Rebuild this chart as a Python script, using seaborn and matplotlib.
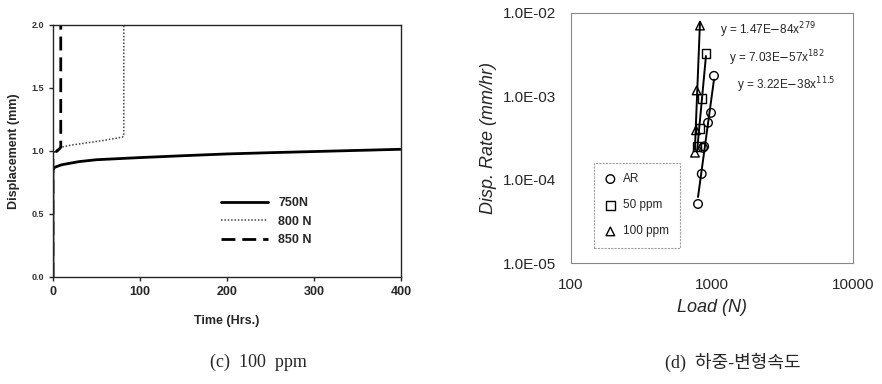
import numpy as np
import pandas as pd
import matplotlib
matplotlib.use('Agg')
import matplotlib.pyplot as plt
import seaborn as sns

# (c) creep curves, 100 ppm
t_750 = [0, 0, 2, 10, 30, 50, 100, 150, 200, 250, 300, 350, 400]
d_750 = [0, 0.85, 0.87, 0.89, 0.915, 0.93, 0.947, 0.962, 0.976, 0.986, 0.995, 1.004, 1.013]
t_800 = [0, 0, 2, 5, 10, 20, 40, 60, 80, 81.5, 81.5]
d_800 = [0, 0.96, 0.99, 1.01, 1.03, 1.045, 1.065, 1.085, 1.11, 1.12, 2.1]
t_850 = [0, 0, 1, 3, 5, 8, 9, 9]
d_850 = [0, 0.93, 0.96, 0.99, 1.0, 1.02, 1.03, 2.3]
left_labels = ['750N', '800 N', '850 N']

# (d) load vs displacement rate
ar_load = [796, 846, 863, 880, 937, 984, 1033]
ar_rate = [5.1e-5, 1.17e-4, 2.4e-4, 2.5e-4, 4.8e-4, 6.3e-4, 1.75e-3]
p50_load = [783, 822, 849, 906]
p50_rate = [2.5e-4, 4.1e-4, 9.4e-4, 3.25e-3]
p100_load = [757, 770, 778, 822]
p100_rate = [2.1e-4, 3.9e-4, 1.17e-3, 7.0e-3]
group_names = ['AR', '50 ppm', '100 ppm']
fit_labels = [r'y = 3.22E$-$38x$^{11.5}$', r'y = 7.03E$-$57x$^{182}$', r'y = 1.47E$-$84x$^{279}$']
ytick_vals = [1e-5, 1e-4, 1e-3, 1e-2]
ytick_labels = ['1.0E-05', '1.0E-04', '1.0E-03', '1.0E-02']
xtick_vals = [100, 1000, 10000]
xtick_labels = ['100', '1000', '10000']

sns.set_style('ticks')
plt.rcParams['font.family'] = ['Liberation Sans', 'DejaVu Sans']

fig = plt.figure(figsize=(8.82, 3.84), dpi=100)
ax1 = fig.add_axes([0.060, 0.279, 0.3946, 0.656])
ax2 = fig.add_axes([0.6474, 0.315, 0.3197, 0.652])

# ---- left panel
sns.lineplot(x=t_750, y=d_750, ax=ax1, sort=False, estimator=None, color='black', lw=2.0, label=left_labels[0])
sns.lineplot(x=t_800, y=d_800, ax=ax1, sort=False, estimator=None, color='#444444', lw=1.1, linestyle=(0, (1, 1.2)), label=left_labels[1])
sns.lineplot(x=t_850, y=d_850, ax=ax1, sort=False, estimator=None, color='black', lw=2.0, linestyle=(0, (5, 2.5)), label=left_labels[2])
ax1.set_xlim(0, 400)
ax1.set_ylim(0, 2.0)
ax1.set_xticks([0, 100, 200, 300, 400])
ax1.set_yticks([0.0, 0.5, 1.0, 1.5, 2.0])
ax1.set_yticklabels(['0.0', '0.5', '1.0', '1.5', '2.0'], fontsize=6.5, fontweight='bold', color='#333333')
ax1.set_xticklabels(['0', '100', '200', '300', '400'], fontsize=9, fontweight='bold')
ax1.tick_params(direction='out', length=3, width=1)
for s in ax1.spines.values():
    s.set_linewidth(1.0)
ax1.set_xlabel('Time (Hrs.)', fontsize=9, fontweight='bold', labelpad=12)
ax1.set_ylabel('Displacement (mm)', fontsize=9, fontweight='bold', labelpad=8)
ax1.legend(loc='upper left', bbox_to_anchor=(0.45, 0.36), frameon=False,
           prop={'weight': 'bold', 'size': 9}, handlelength=3.8, labelspacing=0.5)

# ---- right panel
groups = [(ar_load, ar_rate, 'o'), (p50_load, p50_rate, 's'), (p100_load, p100_rate, '^')]
for (ld, rt, mk), name in zip(groups, group_names):
    sns.scatterplot(x=ld, y=rt, ax=ax2, marker=mk, s=38, facecolor='none', edgecolor='black',
                    linewidth=1.0, label=name, zorder=3)
    # power-law fit in log-log space
    k, b = np.polyfit(np.log10(ld), np.log10(rt), 1)
    xs = np.array([min(ld), max(ld)])
    sns.lineplot(x=xs, y=10 ** (b + k * np.log10(xs)), ax=ax2, color='black', lw=1.4, legend=False)

ax2.set_xscale('log')
ax2.set_yscale('log')
ax2.set_xlim(100, 10000)
ax2.set_ylim(1e-5, 1e-2)
ax2.set_xticks(xtick_vals)
ax2.set_xticklabels(xtick_labels, fontsize=11)
ax2.set_yticks(ytick_vals)
ax2.set_yticklabels(ytick_labels, fontsize=11)
ax2.minorticks_off()
ax2.tick_params(length=0, pad=11)
for s in ax2.spines.values():
    s.set_linewidth(0.8)
    s.set_color('#888888')
    s.set_linestyle((0, (2, 1)))
ax2.set_xlabel('Load (N)', fontsize=13, style='italic', labelpad=5)
ax2.set_ylabel('Disp. Rate (mm/hr)', fontsize=13, style='italic', labelpad=4)

ax2.text(0.53, 0.93, fit_labels[2], transform=ax2.transAxes, fontsize=8.5, va='center')
ax2.text(0.56, 0.82, fit_labels[1], transform=ax2.transAxes, fontsize=8.5, va='center')
ax2.text(0.59, 0.71, fit_labels[0], transform=ax2.transAxes, fontsize=8.5, va='center')

leg2 = ax2.legend(loc='upper left', bbox_to_anchor=(0.06, 0.425), frameon=True, fancybox=False,
                  fontsize=8.5, labelspacing=1.2, handletextpad=0.6, borderpad=0.9, handlelength=1.0)
leg2.get_frame().set_edgecolor('#888888')
leg2.get_frame().set_linestyle((0, (2, 1)))
leg2.get_frame().set_linewidth(0.8)

# captions
fig.text(0.2925, 0.057, '(c)  100  ppm', ha='center', va='center', fontsize=13,
         family=['Liberation Serif', 'DejaVu Serif'])
fig.text(0.831, 0.057, '(d)  하중-변형속도', ha='center', va='center', fontsize=13,
         family=['Liberation Serif', 'Noto Sans CJK KR'])

fig.savefig('out.png', dpi=100)
